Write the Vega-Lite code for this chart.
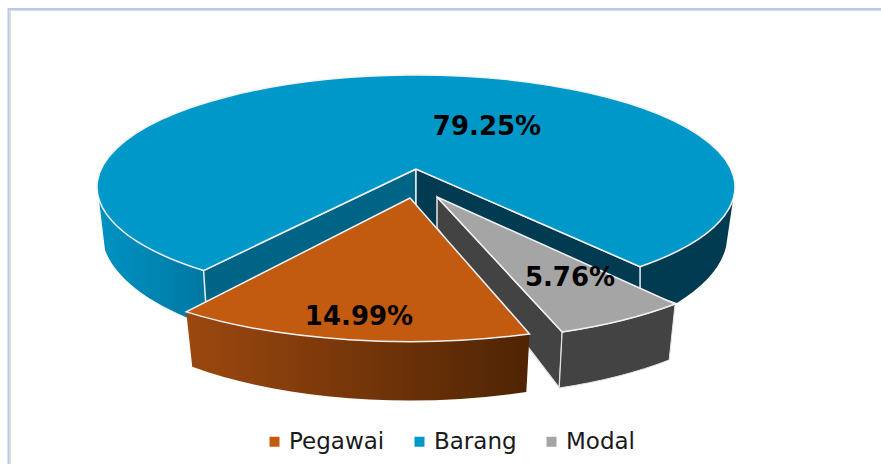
{
"$schema":"https://vega.github.io/schema/vega-lite/v6.json",
"width":881,"height":464,"padding":0,"autosize":{"type":"none"},
"background":"white",
"config":{"view":{"stroke":null}},
"data":{"values":[{"name":"Pegawai","share":14.99},{"name":"Barang","share":79.25},{"name":"Modal","share":5.76}]},
"transform":[
{"window":[{"op":"sum","field":"share","as":"v1"}]},
{"calculate":"(datum.v1-datum.share)*3.6-16.6","as":"u0"},
{"calculate":"datum.v1*3.6-16.6","as":"u1"},
{"calculate":"2*atan(1.171*tan(datum.u0*PI/360))-0.0253","as":"p0"},
{"calculate":"2*atan(1.171*tan(datum.u1*PI/360))-0.0253","as":"p1"},
{"calculate":"datum.name==='Pegawai'?410:datum.name==='Barang'?416:446.4","as":"cx"},
{"calculate":"datum.name==='Pegawai'?224.6:datum.name==='Barang'?187:214.6","as":"cy"},
{"calculate":"datum.name==='Pegawai'?336:datum.name==='Barang'?319:325.6","as":"rx"},
{"calculate":"datum.name==='Pegawai'?117:datum.name==='Barang'?112:125.6","as":"ry"},
{"calculate":"datum.name==='Pegawai'?410:datum.name==='Barang'?416:437","as":"ax"},
{"calculate":"datum.name==='Pegawai'?198:datum.name==='Barang'?169:197","as":"ay"},
{"calculate":"datum.name==='Pegawai'?410:datum.name==='Barang'?415:446.5","as":"bcx"},
{"calculate":"datum.name==='Pegawai'?267.6:datum.name==='Barang'?232:270.6","as":"bcy"},
{"calculate":"datum.name==='Pegawai'?327:datum.name==='Barang'?313:317","as":"brx"},
{"calculate":"datum.name==='Pegawai'?133:datum.name==='Barang'?125:125.6","as":"bry"},
{"calculate":"datum.cx-datum.rx*sin(datum.p0)","as":"x0"},
{"calculate":"datum.cy+datum.ry*cos(datum.p0)","as":"y0"},
{"calculate":"datum.cx-datum.rx*sin(datum.p1)","as":"x1"},
{"calculate":"datum.cy+datum.ry*cos(datum.p1)","as":"y1"},
{"calculate":"datum.bcx-datum.brx*sin(datum.p0)","as":"bx0"},
{"calculate":"datum.bcy+datum.bry*cos(datum.p0)","as":"by0"},
{"calculate":"datum.bcx-datum.brx*sin(datum.p1)","as":"bx1"},
{"calculate":"datum.bcy+datum.bry*cos(datum.p1)","as":"by1"},
{"calculate":"'M'+datum.ax+' '+datum.ay+'L'+datum.x0+' '+datum.y0+'A'+datum.rx+' '+datum.ry+' 0 '+(datum.share>50?1:0)+' 1 '+datum.x1+' '+datum.y1+'Z'","as":"topPath"},
{"calculate":"'M'+datum.x0+' '+datum.y0+'A'+datum.rx+' '+datum.ry+' 0 0 1 '+datum.x1+' '+datum.y1+'L'+datum.bx1+' '+datum.by1+'A'+datum.brx+' '+datum.bry+' 0 0 0 '+datum.bx0+' '+datum.by0+'Z'","as":"frontPath"},
{"calculate":"'M99 200A'+datum.rx+' '+datum.ry+' 0 0 0 '+datum.x0+' '+datum.y0+'L'+datum.bx0+' '+datum.by0+'A'+datum.brx+' '+datum.bry+' 0 0 1 105 250Z'","as":"outerLeft"},
{"calculate":"'M733 200A'+datum.rx+' '+datum.ry+' 0 0 1 '+datum.x1+' '+datum.y1+'L'+datum.x1+' '+(datum.y1+24)+'L677 303A'+datum.brx+' '+datum.bry+' 0 0 0 726 247Z'","as":"outerRight"},
{"calculate":"'M'+datum.ax+' '+datum.ay+'L'+datum.x0+' '+datum.y0+'L'+(datum.x0+4)+' '+(datum.y0+60)+'L'+datum.ax+' '+(datum.ay+40)+'Z'","as":"innerLeft"},
{"calculate":"'M'+datum.ax+' '+datum.ay+'L'+datum.x1+' '+datum.y1+'L'+datum.x1+' '+(datum.y1+24)+'L437 233L'+datum.ax+' 228Z'","as":"innerRight"},
{"calculate":"'M'+datum.ax+' '+datum.ay+'L'+datum.x1+' '+datum.y1+'L'+datum.bx1+' '+datum.by1+'L'+datum.ax+' '+(datum.ay+31)+'Z'","as":"greyInner"},
{"calculate":"datum.name==='Pegawai'?359:datum.name==='Barang'?487:570","as":"lx"},
{"calculate":"datum.name==='Pegawai'?317:datum.name==='Barang'?127:278","as":"ly"},
{"calculate":"format(datum.share,'.2f')+'%'","as":"label"}
],
"layer":[
{"transform":[{"filter":"datum.name==='Barang'"}],"mark":{"type":"point","x":0,"y":0,"filled":true,"opacity":1,"size":4,"strokeWidth":0,"shape":{"expr":"datum.outerLeft"},"color":{"gradient":"linear","x1":0,"y1":0,"x2":1,"y2":0,"stops":[{"offset":0,"color":"#0092c2"},{"offset":1,"color":"#0077a2"}]}}},
{"transform":[{"filter":"datum.name==='Barang'"}],"mark":{"type":"point","x":0,"y":0,"filled":true,"opacity":1,"size":4,"strokeWidth":0,"shape":{"expr":"datum.outerRight"},"fill":"#003b52"}},
{"transform":[{"filter":"datum.name==='Barang'"}],"mark":{"type":"point","x":0,"y":0,"filled":true,"opacity":1,"size":4,"stroke":"#e8eef2","strokeWidth":1.5,"shape":{"expr":"datum.innerLeft"},"fill":"#006487"}},
{"transform":[{"filter":"datum.name==='Barang'"}],"mark":{"type":"point","x":0,"y":0,"filled":true,"opacity":1,"size":4,"stroke":"#e8eef2","strokeWidth":1.5,"shape":{"expr":"datum.innerRight"},"fill":"#003b52"}},
{"transform":[{"filter":"datum.name==='Modal'"}],"mark":{"type":"point","x":0,"y":0,"filled":true,"opacity":1,"size":4,"stroke":"#e8e8e8","strokeWidth":1.5,"shape":{"expr":"datum.greyInner"},"fill":"#434343"}},
{"transform":[{"filter":"datum.name==='Modal'"}],"mark":{"type":"point","x":0,"y":0,"filled":true,"opacity":1,"size":4,"stroke":"#e8e8e8","strokeWidth":1,"shape":{"expr":"datum.frontPath"},"fill":"#434343"}},
{"transform":[{"filter":"datum.name==='Pegawai'"}],"mark":{"type":"point","x":0,"y":0,"filled":true,"opacity":1,"size":4,"strokeWidth":0,"shape":{"expr":"datum.frontPath"},"color":{"gradient":"linear","x1":0,"y1":0,"x2":1,"y2":0,"stops":[{"offset":0,"color":"#9c480f"},{"offset":1,"color":"#4f2404"}]}}},
{"mark":{"type":"point","x":0,"y":0,"filled":true,"opacity":1,"size":4,"stroke":"#f2f2f2","strokeWidth":1.5,"shape":{"expr":"datum.topPath"}},
 "encoding":{
 "fill":{"field":"name","type":"nominal","sort":null,"scale":{"domain":["Pegawai","Barang","Modal"],"range":["#c25a0f","#0098c9","#a5a5a5"]},
 "legend":{"title":null,"orient":"none","legendX":263,"legendY":430,"direction":"horizontal","symbolType":"square","symbolSize":100,"symbolStrokeWidth":0,"labelFont":"DejaVu Sans","labelFontSize":23,"labelColor":"#1a1a1a","labelOffset":3,"columnPadding":23,"labelLimit":200}}}},
{"mark":{"type":"text","font":"DejaVu Sans","fontWeight":"bold","fontSize":26,"color":"#000","baseline":"middle","align":"center","x":{"expr":"datum.lx"},"y":{"expr":"datum.ly"}},
 "encoding":{"text":{"field":"label"}}},
{"data":{"values":[{"edge":"frame"}]},"transform":[],"mark":{"type":"point","x":0,"y":0,"filled":true,"opacity":1,"size":4,"strokeWidth":0,"fill":"#dcdcdc","shape":"M9.5 10H881V11H11V464H9.5Z"}},
{"data":{"values":[{"edge":"frame"}]},"transform":[],"mark":{"type":"point","x":0,"y":0,"filled":true,"opacity":1,"size":4,"strokeWidth":0,"fill":"#b4cce8","shape":"M7.5 8H881V10H9.5V464H7.5Z"}}
]
}
